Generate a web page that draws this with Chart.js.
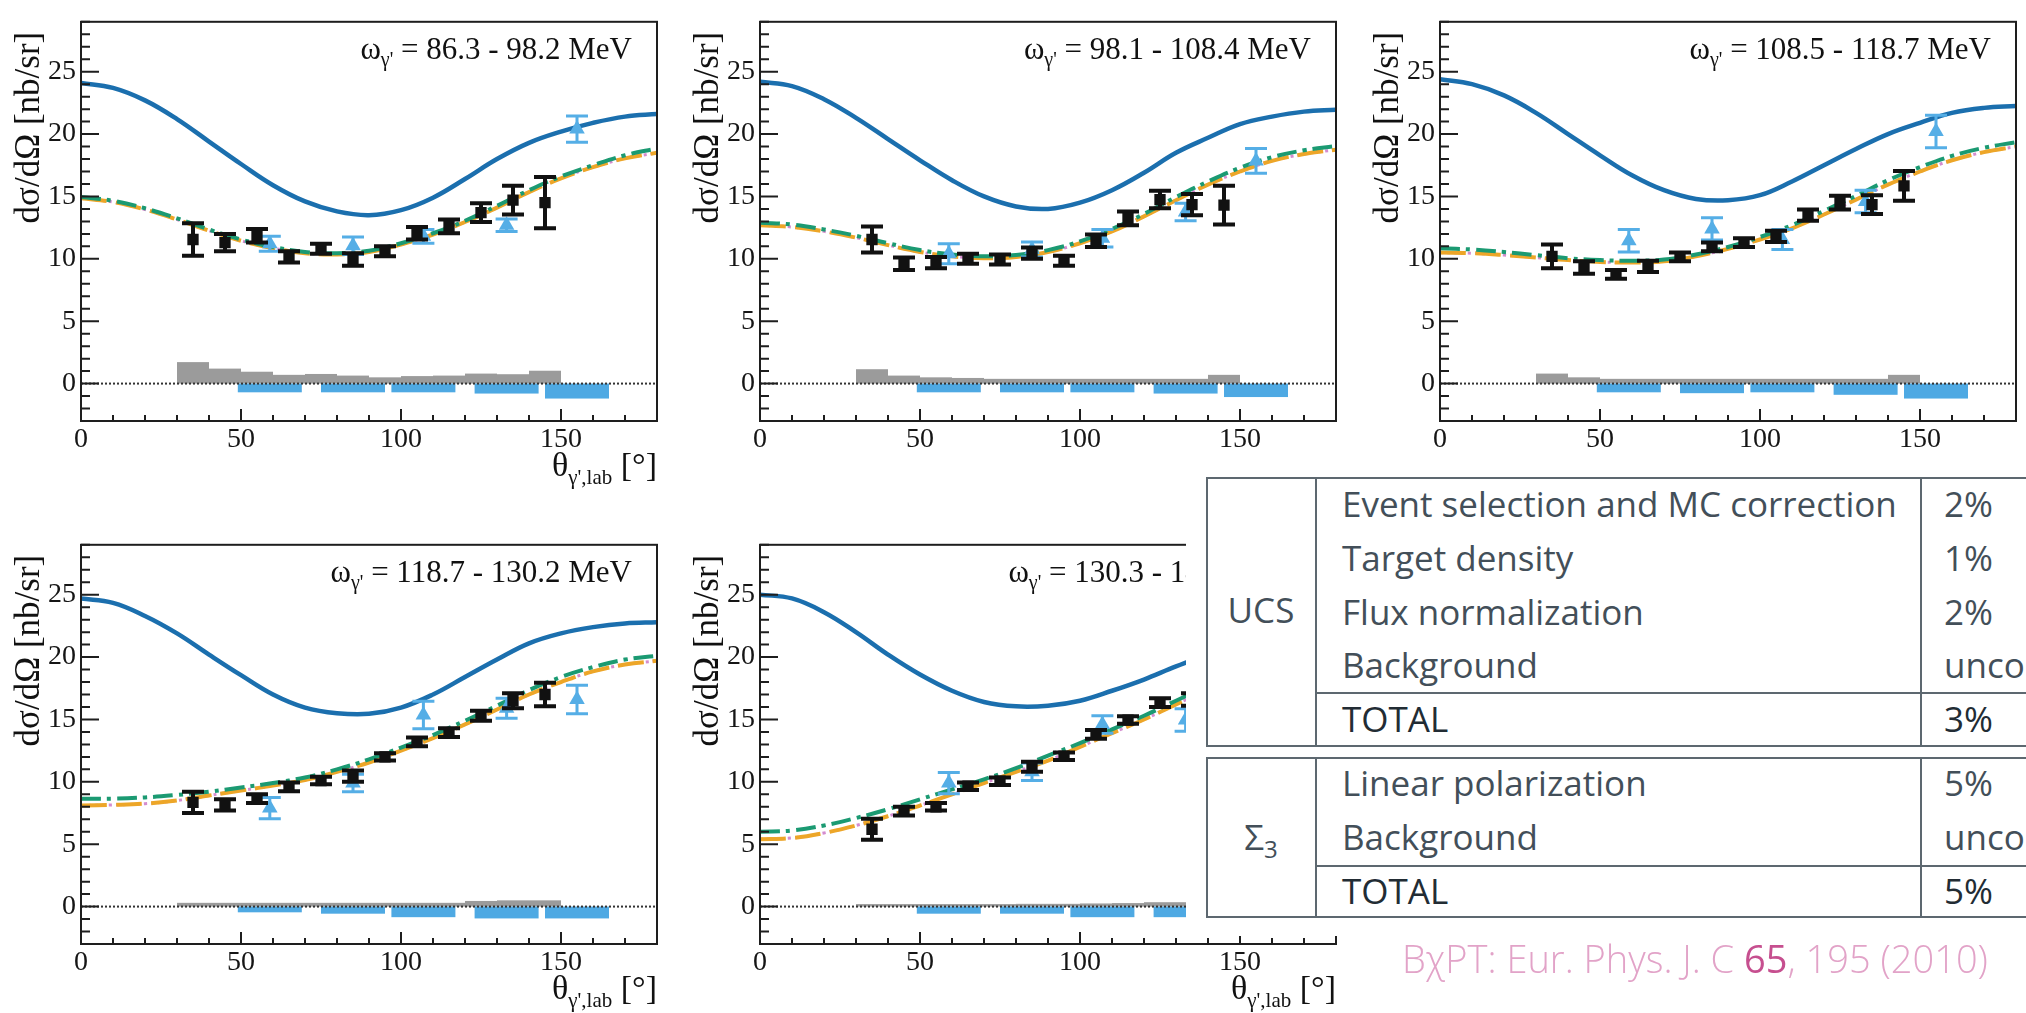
<!DOCTYPE html>
<html>
<head>
<meta charset="utf-8">
<script src="https://cdn.jsdelivr.net/npm/chart.js@4.4.1/dist/chart.umd.min.js"></script>
<style>
html, body { margin: 0; padding: 0; background: #fff; }
body { width: 2026px; height: 1013px; overflow: hidden; position: relative; }
canvas { position: absolute; }
#cover { position: absolute; left: 1186px; top: 462px; width: 840px; height: 474px; background: #fff; }
.box { position: absolute; left: 1206px; width: 900px; border: 2px solid #5d6870; box-sizing: border-box; }
.vl { position: absolute; width: 2px; background: #5d6870; }
.hl { position: absolute; height: 2px; background: #5d6870; left: 1316px; width: 800px; }
.t { position: absolute; font-family: 'Open Sans', sans-serif; font-weight: 400; font-size: 35px;
     color: #434f59; line-height: 40px; height: 40px; white-space: nowrap; }
.t.tot { color: #222c34; font-weight: 500; }
.c1 { width: 110px; left: 1206px; text-align: center; }
.c2 { left: 1342px; }
.c3 { left: 1944px; }
#cite { position: absolute; left: 1402px; top: 935px; font-family: 'Open Sans', sans-serif; font-weight: 300;
        font-size: 38px; color: #e2a3c8; white-space: nowrap; line-height: 46px; }
#cite b { color: #c64f8f; font-weight: 500; }
</style>
</head>
<body>
<canvas id="p0" width="680" height="500" style="left:0px;top:0px"></canvas>
<canvas id="p1" width="680" height="500" style="left:679px;top:0px"></canvas>
<canvas id="p2" width="680" height="500" style="left:1359px;top:0px"></canvas>
<canvas id="p3" width="680" height="500" style="left:0px;top:523px"></canvas>
<canvas id="p4" width="680" height="500" style="left:679px;top:523px"></canvas>

<div id="cover"></div>

<div class="box" style="top:477px;height:270px"></div>
<div class="vl" style="left:1315px;top:477px;height:270px"></div>
<div class="vl" style="left:1920px;top:477px;height:270px"></div>
<div class="hl" style="top:692px"></div>
<div class="t c1" style="top:590px">UCS</div>
<div class="t c2" style="top:484px">Event selection and MC correction</div>
<div class="t c2" style="top:538px">Target density</div>
<div class="t c2" style="top:592px">Flux normalization</div>
<div class="t c2" style="top:645px">Background</div>
<div class="t c2 tot" style="top:699px">TOTAL</div>
<div class="t c3" style="top:484px">2%</div>
<div class="t c3" style="top:538px">1%</div>
<div class="t c3" style="top:592px">2%</div>
<div class="t c3" style="top:645px">uncorrelated</div>
<div class="t c3 tot" style="top:699px">3%</div>

<div class="box" style="top:757px;height:161px"></div>
<div class="vl" style="left:1315px;top:757px;height:161px"></div>
<div class="vl" style="left:1920px;top:757px;height:161px"></div>
<div class="hl" style="top:865px"></div>
<div class="t c1" style="top:817px">&Sigma;<span style="font-size:24px;position:relative;top:8px">3</span></div>
<div class="t c2" style="top:763px">Linear polarization</div>
<div class="t c2" style="top:817px">Background</div>
<div class="t c2 tot" style="top:871px">TOTAL</div>
<div class="t c3" style="top:763px">5%</div>
<div class="t c3" style="top:817px">uncorrelated</div>
<div class="t c3 tot" style="top:871px">5%</div>

<div id="cite">B&chi;PT: Eur. Phys. J. C <b>65</b>, 195 (2010)</div>

<script>
// angle grid for the theory curves
const theta = [0, 10, 20, 30, 40, 50, 60, 70, 80, 90, 100, 110, 120, 130, 140, 150, 160, 170, 180];
const blackX = [35, 45, 55, 65, 75, 85, 95, 105, 115, 125, 135, 145];
const triX = [59, 85, 107, 133, 155];
const triBinLo = [49, 75, 97, 123, 145];
const triBinHi = [69, 95, 117, 143, 165];
const greyEdges = [30, 40, 50, 60, 70, 80, 90, 100, 110, 120, 130, 140, 150];
const xTicks = [0, 50, 100, 150];
const yTicks = [0, 5, 10, 15, 20, 25];
const energyRanges = ['86.3 - 98.2', '98.1 - 108.4', '108.5 - 118.7', '118.7 - 130.2', '130.3 - 141.9'];

// solid blue curve
const curveBlue = [
    [24.1, 23.7, 22.7, 21.2, 19.4, 17.6, 15.9, 14.6, 13.8, 13.5, 13.9, 14.9, 16.4, 18.0, 19.3, 20.2, 20.9, 21.4, 21.6],
    [24.2, 23.85, 22.8, 21.3, 19.6, 17.9, 16.3, 15.0, 14.2, 14.0, 14.5, 15.5, 16.9, 18.5, 19.7, 20.8, 21.4, 21.8, 21.95],
    [24.4, 24.0, 23.1, 21.7, 20.0, 18.3, 16.7, 15.5, 14.8, 14.7, 15.1, 16.2, 17.5, 18.8, 20.0, 20.9, 21.7, 22.1, 22.25],
    [24.7, 24.35, 23.3, 21.9, 20.2, 18.55, 17.0, 15.95, 15.5, 15.45, 15.95, 17.0, 18.4, 19.8, 21.1, 21.9, 22.4, 22.7, 22.8],
    [25.0, 24.7, 23.6, 22.0, 20.2, 18.6, 17.3, 16.4, 16.05, 16.1, 16.5, 17.3, 18.2, 19.25, 20.2]
];
// green dash-dot curve
const curveGreen = [
    [14.95, 14.65, 14.05, 13.25, 12.35, 11.55, 10.95, 10.55, 10.45, 10.65, 11.25, 12.05, 13.05, 14.25, 15.5, 16.6, 17.5, 18.3, 18.85],
    [12.9, 12.75, 12.35, 11.85, 11.25, 10.7, 10.35, 10.2, 10.3, 10.7, 11.4, 12.4, 13.6, 14.95, 16.2, 17.3, 18.15, 18.7, 19.05],
    [10.85, 10.75, 10.55, 10.3, 10.05, 9.9, 9.85, 9.95, 10.35, 10.95, 11.75, 12.7, 13.85, 15.05, 16.3, 17.35, 18.25, 18.9, 19.35],
    [8.65, 8.65, 8.75, 8.95, 9.2, 9.55, 9.9, 10.35, 11.0, 11.8, 12.75, 13.75, 14.9, 16.1, 17.35, 18.4, 19.2, 19.8, 20.1],
    [6.0, 6.1, 6.5, 7.1, 7.8, 8.6, 9.4, 10.2, 11.1, 12.1, 13.1, 14.2, 15.3, 16.5, 17.7]
];
// orange long-dash curve (pink dotted one lies underneath it)
const curveOrange = [
    [14.85, 14.55, 13.95, 13.15, 12.25, 11.45, 10.85, 10.45, 10.35, 10.55, 11.15, 11.95, 12.95, 14.1, 15.35, 16.45, 17.35, 18.05, 18.5],
    [12.7, 12.55, 12.2, 11.7, 11.1, 10.55, 10.2, 10.05, 10.15, 10.55, 11.25, 12.2, 13.4, 14.7, 15.95, 17.0, 17.85, 18.4, 18.75],
    [10.5, 10.45, 10.3, 10.1, 9.9, 9.75, 9.7, 9.8, 10.2, 10.8, 11.55, 12.45, 13.55, 14.75, 15.95, 17.0, 17.9, 18.55, 19.0],
    [8.1, 8.15, 8.25, 8.5, 8.9, 9.3, 9.7, 10.15, 10.8, 11.55, 12.5, 13.5, 14.6, 15.8, 17.0, 18.0, 18.85, 19.4, 19.7],
    [5.4, 5.5, 5.9, 6.5, 7.25, 8.1, 9.0, 9.9, 10.8, 11.7, 12.8, 13.9, 15.0, 16.2, 17.4]
];

// black squares (this work)
const blackY = [
    [11.55, 11.3, 11.85, 10.15, 10.8, 9.95, 10.6, 12.05, 12.6, 13.7, 14.7, 14.5],
    [11.55, 9.6, 9.7, 10.0, 9.95, 10.45, 9.85, 11.45, 13.25, 14.75, 14.35, 14.3],
    [10.2, 9.3, 8.75, 9.4, 10.15, 10.95, 11.3, 11.8, 13.5, 14.5, 14.35, 15.85],
    [8.35, 8.15, 8.65, 9.6, 10.1, 10.45, 12.0, 13.2, 13.95, 15.3, 16.5, 17.0],
    [6.2, 7.65, 8.0, 9.65, 10.05, 11.2, 12.05, 13.8, 14.95, 16.35, 16.6]
];
const blackErr = [
    [1.3, 0.7, 0.55, 0.45, 0.4, 0.5, 0.4, 0.5, 0.55, 0.75, 1.15, 2.05],
    [1.05, 0.5, 0.45, 0.4, 0.4, 0.45, 0.4, 0.5, 0.55, 0.7, 0.85, 1.55],
    [0.95, 0.5, 0.35, 0.45, 0.35, 0.35, 0.35, 0.45, 0.45, 0.55, 0.75, 1.2],
    [0.85, 0.45, 0.35, 0.35, 0.3, 0.45, 0.3, 0.35, 0.35, 0.4, 0.6, 0.95],
    [0.85, 0.35, 0.3, 0.3, 0.3, 0.4, 0.3, 0.35, 0.3, 0.35, 0.5]
];
// light blue triangles (earlier data)
const triY = [
    [11.2, 11.05, 11.8, 12.7, 20.4],
    [10.4, 10.75, 11.65, 13.75, 17.85],
    [11.45, 12.4, 11.55, 14.6, 20.2],
    [7.9, 9.9, 15.35, 15.9, 16.6],
    [9.9, 10.8, 14.6, 14.95]
];
const triErr = [
    [0.6, 0.7, 0.55, 0.5, 1.05],
    [0.8, 0.6, 0.7, 0.7, 1.0],
    [0.9, 0.9, 0.8, 0.9, 1.3],
    [0.85, 0.7, 1.1, 0.8, 1.15],
    [0.85, 0.7, 0.7, 0.9]
];
// systematic bands
const sysGrey = [
    [1.72, 1.2, 0.95, 0.7, 0.77, 0.64, 0.5, 0.6, 0.64, 0.8, 0.75, 1.03],
    [1.15, 0.64, 0.5, 0.45, 0.38, 0.38, 0.38, 0.38, 0.38, 0.38, 0.38, 0.7],
    [0.8, 0.5, 0.38, 0.38, 0.38, 0.38, 0.38, 0.38, 0.38, 0.38, 0.38, 0.7],
    [0.3, 0.3, 0.3, 0.3, 0.3, 0.3, 0.3, 0.3, 0.3, 0.45, 0.5, 0.5],
    [0.2, 0.2, 0.2, 0.2, 0.2, 0.22, 0.22, 0.25, 0.28, 0.35, 0.35]
];
const sysBlue = [
    [-0.7, -0.7, -0.7, -0.8, -1.2],
    [-0.7, -0.7, -0.7, -0.8, -1.08],
    [-0.7, -0.77, -0.7, -0.9, -1.2],
    [-0.46, -0.57, -0.85, -0.95, -0.95],
    [-0.57, -0.57, -0.85, -0.85]
];

const SERIF = '"Liberation Serif", "Times New Roman", serif';

function pts(xs, ys) {
    return ys.map((v, i) => ({ x: xs[i], y: v }));
}

function drawRich(ctx, parts, rightX, baseline) {
    let total = 0;
    parts.forEach(p => { ctx.font = p[1] + 'px ' + SERIF; total += ctx.measureText(p[0]).width; });
    let x = rightX - total;
    ctx.textAlign = 'left';
    ctx.textBaseline = 'alphabetic';
    parts.forEach(p => {
        ctx.font = p[1] + 'px ' + SERIF;
        ctx.fillText(p[0], x, baseline + p[2]);
        x += ctx.measureText(p[0]).width;
    });
}

const rootStyle = {
    id: 'rootStyle',
    beforeDatasetsDraw(chart, args, o) {
        const p = o.panel;
        const { ctx, chartArea: a } = chart;
        const x = chart.scales.x, y = chart.scales.y;
        const y0 = y.getPixelForValue(0);
        ctx.save();
        ctx.beginPath();
        ctx.rect(a.left, a.top, a.right - a.left, a.bottom - a.top);
        ctx.clip();
        ctx.fillStyle = '#9b9b9b';
        sysGrey[p].forEach((h, i) => {
            const x0 = x.getPixelForValue(greyEdges[i]);
            const x1 = x.getPixelForValue(greyEdges[i + 1]);
            const yh = y.getPixelForValue(h);
            ctx.fillRect(x0, yh, x1 - x0, y0 - yh);
        });
        ctx.fillStyle = '#4ea9e3';
        sysBlue[p].forEach((h, i) => {
            const x0 = x.getPixelForValue(triBinLo[i]);
            const x1 = x.getPixelForValue(triBinHi[i]);
            const yh = y.getPixelForValue(h);
            ctx.fillRect(x0, y0, x1 - x0, yh - y0);
        });
        ctx.strokeStyle = '#333';
        ctx.lineWidth = 2;
        ctx.setLineDash([2, 2]);
        ctx.beginPath();
        ctx.moveTo(a.left, y0);
        ctx.lineTo(a.right, y0);
        ctx.stroke();
        ctx.restore();
    },
    beforeDatasetDraw(chart, args) {
        const ds = chart.data.datasets[args.index];
        if (!ds.errs) return;
        const ctx = chart.ctx, x = chart.scales.x, y = chart.scales.y;
        ctx.save();
        ctx.strokeStyle = ds.backgroundColor;
        ctx.lineWidth = ds.errWidth;
        ds.data.forEach((pt, i) => {
            const px = x.getPixelForValue(pt.x);
            const hi = y.getPixelForValue(pt.y + ds.errs[i]);
            const lo = y.getPixelForValue(pt.y - ds.errs[i]);
            ctx.beginPath();
            ctx.moveTo(px, hi); ctx.lineTo(px, lo);
            ctx.moveTo(px - 11, hi); ctx.lineTo(px + 11, hi);
            ctx.moveTo(px - 11, lo); ctx.lineTo(px + 11, lo);
            ctx.stroke();
        });
        ctx.restore();
    },
    afterDraw(chart, args, o) {
        const { ctx, chartArea: a } = chart;
        const x = chart.scales.x, y = chart.scales.y;
        ctx.save();
        ctx.strokeStyle = '#1e1e1e';
        ctx.lineWidth = 2;
        ctx.strokeRect(a.left, a.top, a.right - a.left, a.bottom - a.top);
        ctx.beginPath();
        for (let v = -3; v <= 29; v++) {
            const py = y.getPixelForValue(v);
            ctx.moveTo(a.left, py);
            ctx.lineTo(a.left + (v % 5 === 0 ? 18 : 9), py);
        }
        for (let v = 0; v <= 180; v += 10) {
            const px = x.getPixelForValue(v);
            ctx.moveTo(px, a.bottom);
            ctx.lineTo(px, a.bottom - (v % 50 === 0 ? 12 : 6));
        }
        ctx.stroke();

        ctx.fillStyle = '#111';
        drawRich(ctx, [['ω', 31, 0], ["γ'", 20, 7], [' = ' + energyRanges[o.panel] + ' MeV', 31, 0]], a.right - 25, a.top + 37);

        ctx.save();
        ctx.translate(30, a.top + 10);
        ctx.rotate(-Math.PI / 2);
        ctx.font = '35px ' + SERIF;
        ctx.textAlign = 'right';
        ctx.textBaseline = 'middle';
        ctx.fillText('dσ/dΩ [nb/sr]', 0, 0);
        ctx.restore();

        if (o.xTitle) {
            drawRich(ctx, [['θ', 34, 0], ["γ',lab", 21, 8], [' [°]', 34, 0]], a.right, a.bottom + 55);
        }
        ctx.restore();
    }
};

function makePanel(p, xTitle) {
    const ctx = document.getElementById('p' + p).getContext('2d');
    return new Chart(ctx, {
        type: 'scatter',
        data: {
            datasets: [
                {
                    data: pts(blackX, blackY[p]),
                    errs: blackErr[p],
                    errWidth: 4,
                    pointStyle: 'rect',
                    pointRadius: 8,
                    backgroundColor: '#111111',
                    borderWidth: 0
                },
                {
                    data: pts(triX, triY[p]),
                    errs: triErr[p],
                    errWidth: 3,
                    pointStyle: 'triangle',
                    pointRadius: 9,
                    backgroundColor: '#55aee6',
                    borderWidth: 0
                },
                {
                    type: 'line',
                    data: pts(theta, curveGreen[p]),
                    borderColor: '#1b9a72',
                    borderWidth: 4,
                    borderDash: [20, 6, 4, 6],
                    pointRadius: 0,
                    tension: 0.4,
                    fill: false
                },
                {
                    type: 'line',
                    data: pts(theta, curveOrange[p]),
                    borderColor: '#eda628',
                    borderWidth: 4,
                    borderDash: [26, 9],
                    pointRadius: 0,
                    tension: 0.4,
                    fill: false
                },
                {
                    type: 'line',
                    data: pts(theta, curveOrange[p]),
                    borderColor: '#d48ccf',
                    borderWidth: 3,
                    borderDash: [3, 4],
                    pointRadius: 0,
                    tension: 0.4,
                    fill: false
                },
                {
                    type: 'line',
                    data: pts(theta, curveBlue[p]),
                    borderColor: '#1b6fae',
                    borderWidth: 4.5,
                    pointRadius: 0,
                    tension: 0.4,
                    fill: false
                }
            ]
        },
        options: {
            responsive: false,
            animation: false,
            devicePixelRatio: 1,
            layout: { padding: { top: 5, right: 23, bottom: 0, left: 0 } },
            plugins: {
                legend: { display: false },
                tooltip: { enabled: false },
                rootStyle: { panel: p, xTitle: xTitle }
            },
            scales: {
                x: {
                    type: 'linear',
                    min: 0,
                    max: 180,
                    afterBuildTicks: s => { s.ticks = xTicks.map(v => ({ value: v })); },
                    afterFit: s => { s.height = 79; },
                    grid: { display: false, drawTicks: false },
                    border: { display: false },
                    ticks: { font: { family: SERIF, size: 28 }, color: '#151515', padding: 2, maxRotation: 0, autoSkip: false }
                },
                y: {
                    type: 'linear',
                    min: -3,
                    max: 29,
                    afterBuildTicks: s => { s.ticks = yTicks.map(v => ({ value: v })); },
                    afterFit: s => { s.width = 81; },
                    grid: { display: false, drawTicks: false },
                    border: { display: false },
                    ticks: { font: { family: SERIF, size: 28 }, color: '#151515', padding: 5 }
                }
            }
        },
        plugins: [rootStyle]
    });
}

makePanel(0, true);
makePanel(1, false);
makePanel(2, false);
makePanel(3, true);
makePanel(4, true);
</script>
</body>
</html>
